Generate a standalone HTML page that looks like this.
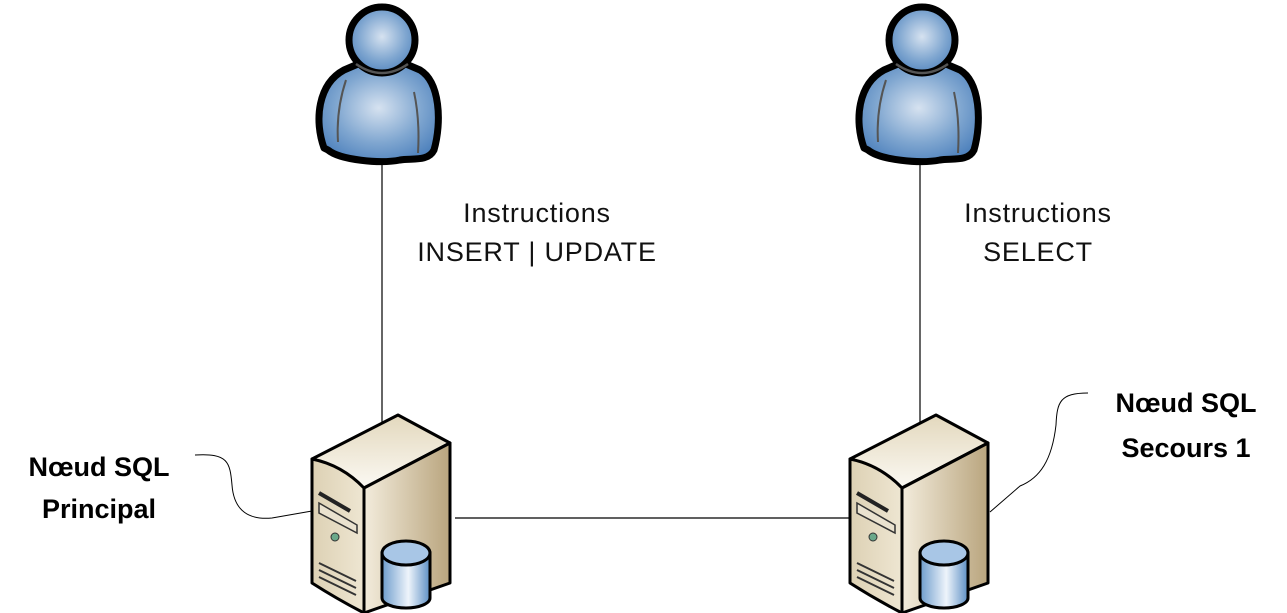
<!DOCTYPE html>
<html><head><meta charset="utf-8"><style>
html,body{margin:0;padding:0;background:#fff;}
svg{display:block}
text{font-family:"Liberation Sans",sans-serif;}
</style></head><body>
<svg width="1287" height="613" viewBox="0 0 1287 613" xmlns="http://www.w3.org/2000/svg">
<defs>
<radialGradient id="blue" cx="0.5" cy="0.45" r="0.6">
<stop offset="0" stop-color="#d6e2f0"/><stop offset="0.6" stop-color="#7fa6d0"/><stop offset="1" stop-color="#4f82bd"/></radialGradient>
<linearGradient id="front" x1="0" y1="0" x2="1" y2="0"><stop offset="0" stop-color="#ddd1b4"/><stop offset="1" stop-color="#eee6d2"/></linearGradient>
<linearGradient id="side" x1="0" y1="0" x2="1" y2="0"><stop offset="0" stop-color="#f3ecdc"/><stop offset="1" stop-color="#b9a57e"/></linearGradient>
<linearGradient id="top" x1="0" y1="1" x2="0" y2="0"><stop offset="0" stop-color="#fbf9f3"/><stop offset="1" stop-color="#e3d8bd"/></linearGradient>
<linearGradient id="cyl" x1="0" y1="0" x2="1" y2="0"><stop offset="0" stop-color="#6d9ccc"/><stop offset="0.55" stop-color="#eef4fb"/><stop offset="1" stop-color="#5d8fc4"/></linearGradient>
<g id="person">
<path d="M24,148 C14,120 18,84 44,70 L58,64 L106,64 L120,70 C140,82 142,122 134,150 C128,162 112,158 100,160 C80,164 40,160 28,150 Z" fill="url(#blue)" stroke="#000" stroke-width="7" stroke-linejoin="round"/>
<circle cx="82" cy="40" r="33" fill="url(#blue)" stroke="#000" stroke-width="7"/>
<path d="M56,64 Q82,82 108,64" fill="none" stroke="#555" stroke-width="2.5"/>
<path d="M46,80 Q36,110 38,142" fill="none" stroke="#555" stroke-width="2"/>
<path d="M114,92 Q120,120 118,153" fill="none" stroke="#555" stroke-width="2"/>
</g>
<g id="server">
<path d="M0,46 L86,2 L138,30 L52,75 Z" fill="url(#top)" stroke="#000" stroke-width="3" stroke-linejoin="round"/>
<path d="M52,75 L138,30 L138,170 L52,200 Z" fill="url(#side)" stroke="#000" stroke-width="3" stroke-linejoin="round"/>
<path d="M0,46 Q30,52 52,75 L52,200 Q25,186 0,170 Z" fill="url(#front)" stroke="#000" stroke-width="3" stroke-linejoin="round"/>
<path d="M7,80 L38,98" stroke="#222" stroke-width="4"/>
<path d="M7,90 L45,112 L45,120 L7,100 Z" fill="#eae2cf" stroke="#333" stroke-width="1.5"/>
<circle cx="23" cy="124" r="4" fill="#6aa88a" stroke="#333" stroke-width="1"/>
<path d="M7,150 L44,168 M7,157 L44,175 M7,164 L44,182" stroke="#333" stroke-width="2"/>
<path d="M70,140 L70,185 A24,10 0 0 0 118,185 L118,140 Z" fill="url(#cyl)" stroke="#000" stroke-width="3"/>
<ellipse cx="94" cy="140" rx="24" ry="12" fill="#a8c6e6" stroke="#000" stroke-width="3"/>
</g>
</defs>
<line x1="382" y1="160" x2="382" y2="422" stroke="#000" stroke-width="1.2"/>
<line x1="920" y1="160" x2="920" y2="422" stroke="#000" stroke-width="1.2"/>
<line x1="455" y1="518" x2="852" y2="518" stroke="#000" stroke-width="1.2"/>
<path d="M195,455 C228,453 230,462 232,485 C234,512 250,520 272,518 L312,511" fill="none" stroke="#000" stroke-width="1"/>
<path d="M1088,393 C1060,393 1057,402 1056,425 C1052,460 1040,478 1020,486 L990,512" fill="none" stroke="#000" stroke-width="1"/>
<use href="#person" x="300" y="0"/>
<use href="#person" x="840" y="0"/>
<use href="#server" x="312" y="413"/>
<use href="#server" x="850" y="413"/>
<g font-size="27" fill="#111" text-anchor="middle" letter-spacing="0.8">
<text x="537" y="222">Instructions</text>
<text x="537" y="261">INSERT | UPDATE</text>
<text x="1038" y="222">Instructions</text>
<text x="1038" y="261">SELECT</text>
</g>
<g font-size="27" font-weight="bold" fill="#000" text-anchor="middle">
<text x="99" y="476">Nœud SQL</text>
<text x="99" y="518">Principal</text>
<text x="1186" y="412">Nœud SQL</text>
<text x="1186" y="457">Secours 1</text>
</g>
</svg>
</body></html>
